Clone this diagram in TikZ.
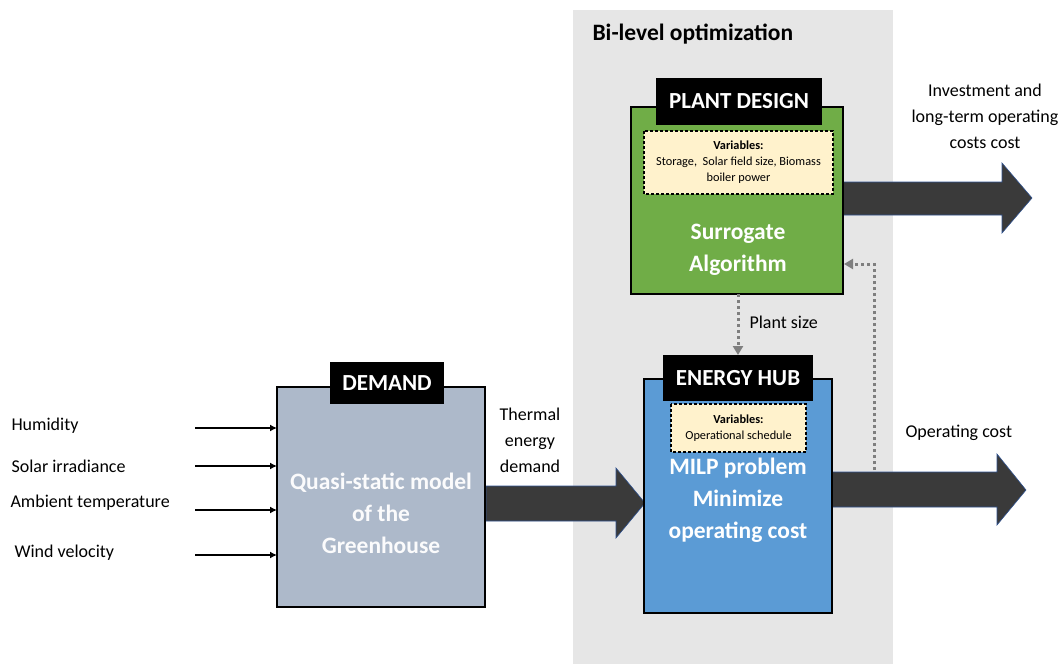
\documentclass[tikz,border=0pt]{standalone}
\usepackage{fontspec}
\setmainfont{Carlito}
\usetikzlibrary{arrows.meta}
\definecolor{bgray}{HTML}{E6E6E6}
\definecolor{pgreen}{HTML}{70AD47}
\definecolor{hblue}{HTML}{5B9BD5}
\definecolor{dslate}{HTML}{ADB9CA}
\definecolor{varfill}{HTML}{FFF2CC}
\definecolor{darrow}{HTML}{3A3A3A}
\definecolor{aedge}{HTML}{2F528F}
\definecolor{dotgray}{HTML}{7F7F7F}
\begin{document}
\begin{tikzpicture}[x=1pt,y=-1pt,
  mainbox/.style={draw=black,line width=2pt},
  tagbox/.style={fill=black,text=white,font=\bfseries\fontsize{23}{26}\selectfont,inner sep=0pt},
  varbox/.style={fill=varfill,draw=black,line width=2.6pt,dash pattern=on 2.6pt off 2.4pt},
  bigtext/.style={text=white,font=\bfseries\fontsize{23.5}{32}\selectfont,align=center},
  lbl/.style={font=\fontsize{18}{26}\selectfont,align=center,text=black},
  bigarrow/.style={fill=darrow,draw=aedge,line width=0.6pt},
  inarrow/.style={-{Latex[length=7pt,width=7pt]},line width=2.3pt},
  dotarrow/.style={draw=dotgray,line width=3pt,dash pattern=on 3pt off 3pt,-{Triangle[length=9pt,width=10pt]}}
]
\useasboundingbox (0,0) rectangle (1063,664);
\fill[white] (0,0) rectangle (1063,664);
% bi-level background
\fill[bgray] (573,10) rectangle (893,664);
\node[anchor=west,font=\bfseries\fontsize{23.5}{28}\selectfont] (title) at (589,34) {Bi-level optimization};

% big arrows
\path[bigarrow] (843,182) -- (1002,182) -- (1002,163) -- (1032,198) -- (1002,233) -- (1002,215) -- (843,215) -- cycle;
\path[bigarrow] (832,472) -- (997,472) -- (997,454) -- (1026,490) -- (997,525) -- (997,507) -- (832,507) -- cycle;
\path[bigarrow] (486,486) -- (616,486) -- (616,468) -- (645,503) -- (616,538) -- (616,521) -- (486,521) -- cycle;

% plant design
\draw[mainbox,fill=pgreen] (631,107) rectangle (843,294);
\node[tagbox,minimum width=166pt,minimum height=47pt] (pdtag) at (739,101) {PLANT DESIGN};
\draw[varbox] (644,131) rectangle (833,194);
\node[align=center,font=\fontsize{12.3}{16}\selectfont] (pdvar) at (738.5,162) {\textbf{Variables:}\\Storage,\ \ Solar field size, Biomass\\boiler power};
\node[bigtext] (surr) at (738,250) {Surrogate\\Algorithm};
\coordinate (pdbot) at (738,294);
\coordinate (pdright) at (843,264);

% energy hub
\draw[mainbox,fill=hblue] (644,379) rectangle (832,613);
\node[tagbox,minimum width=150pt,minimum height=46pt] (ehtag) at (738,378) {ENERGY HUB};
\draw[varbox] (671,404) rectangle (806,452);
\node[align=center,font=\fontsize{12.3}{16}\selectfont] (ehvar) at (738.5,428) {\textbf{Variables:}\\Operational schedule};
\node[bigtext] (milp) at (738,500) {MILP problem\\Minimize\\operating cost};
\coordinate (ehtop) at (738,355);
\coordinate (ehout) at (874,470);
\coordinate (corner) at (874,264);

% demand
\draw[mainbox,fill=dslate] (277,387) rectangle (485,607);
\node[tagbox,minimum width=114pt,minimum height=42pt] (dmtag) at (387,383) {DEMAND};
\node[bigtext,text=white!95!dslate] (quasi) at (381,513) {Quasi-static model\\of the\\Greenhouse};

% dotted arrows
\draw[dotarrow] (pdbot) -- (ehtop);
\node[lbl,anchor=west] (psize) at (746,322) {Plant size};
\draw[dotarrow] (ehout) -- (corner) -- ([xshift=1pt]pdright);

% inputs
\foreach \yy/\name in {428/a,466/b,510/c,555/d}{
  \coordinate (in\name) at (195,\yy);
  \coordinate (to\name) at (277,\yy);
  \draw[inarrow] (in\name) -- (to\name);
}
\node[lbl,anchor=west] (hum) at (8,426) {Humidity};
\node[lbl,anchor=west] (sol) at (8,466) {Solar irradiance};
\node[lbl,anchor=west] (amb) at (7,503) {Ambient temperature};
\node[lbl,anchor=west] (wind) at (11,553) {Wind velocity};

% labels
\node[lbl] (thermal) at (530,440) {Thermal\\energy\\demand};
\node[lbl] (invest) at (985,116) {Investment and\\long-term operating\\costs cost};
\node[lbl,anchor=west] (opcost) at (902,433) {Operating cost};
\end{tikzpicture}
\end{document}
